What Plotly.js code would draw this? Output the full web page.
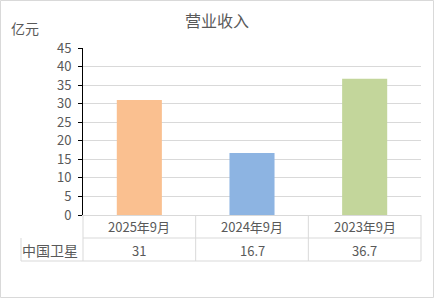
<!DOCTYPE html>
<html>
<head>
<meta charset="utf-8">
<script src="https://cdn.plot.ly/plotly-3.0.1.min.js"></script>
<style>
html,body{margin:0;padding:0;background:#fff;}
#chart{width:434px;height:298px;}
</style>
</head>
<body>
<div id="chart"></div>
<script>
const categories = ["2025年9月", "2024年9月", "2023年9月"];
const seriesName = "中国卫星";
const values = [31, 16.7, 36.7];
const valueLabels = ["31", "16.7", "36.7"];
const barColors = ["#FAC090", "#8DB4E2", "#C3D69B"];
const chartTitle = "营业收入";
const unitLabel = "亿元";

const W = 434, H = 298;
const mL = 83, mR = 13, mT = 48, mB = 83;
const pw = W - mL - mR, ph = H - mT - mB;
const px = p => (p - mL) / pw;         // pixel x -> paper
const py = p => (H - mB - p) / ph;     // pixel y -> paper

const font = "'Noto Sans CJK SC', 'Microsoft YaHei', sans-serif";
const txt = "#595959";
const grid = "#D9D9D9";

const shapes = [];
const line = (xref, x0, x1, yref, y0, y1, color) => shapes.push({
  type: 'line', xref, yref, x0, x1, y0, y1, layer: 'above',
  line: {color: color || grid, width: 1}
});
// outer chart border
shapes.push({type:'rect', xref:'paper', yref:'paper', x0:px(0.5), x1:px(W-0.5), y0:py(0.5), y1:py(H-0.5), line:{color:grid,width:1}, layer:'below'});
// table horizontal lines
line('paper', 0, 1, 'paper', py(238), py(238));
line('paper', px(21), 1, 'paper', py(261), py(261));
// table vertical lines
line('paper', 0, 0, 'paper', 0, py(261));
line('paper', 1, 1, 'paper', 0, py(261));
line('paper', px(21), px(21), 'paper', py(238), py(261));
for (let i = 0; i < categories.length - 1; i++) {
  shapes.push({type:'line', xref:'x', yref:'paper', x0:i+0.5, x1:i+0.5, y0:0, y1:py(261), layer:'above', line:{color:grid,width:1}});
}

const annotations = [];
categories.forEach((c, i) => {
  annotations.push({x: c, xref: 'x', y: py(226.5), yref: 'paper', text: c, showarrow: false,
    font: {family: font, size: 13, color: txt}, xanchor: 'center', yanchor: 'middle'});
  annotations.push({x: c, xref: 'x', y: py(250), yref: 'paper', text: valueLabels[i], showarrow: false,
    font: {family: font, size: 13, color: txt}, xanchor: 'center', yanchor: 'middle'});
});
annotations.push({x: px(50), xref: 'paper', y: py(250), yref: 'paper', text: seriesName, showarrow: false,
  font: {family: font, size: 14, color: txt}, xanchor: 'center', yanchor: 'middle'});
annotations.push({x: px(25), xref: 'paper', y: py(28), yref: 'paper', text: unitLabel, showarrow: false,
  font: {family: font, size: 14, color: txt}, xanchor: 'center', yanchor: 'middle'});

const data = [{
  type: 'bar', x: categories, y: values, name: seriesName,
  marker: {color: barColors, line: {width: 0}},
  hoverinfo: 'x+y'
}];

const layout = {
  width: W, height: H,
  margin: {l: mL, r: mR, t: mT, b: mB, pad: 0},
  paper_bgcolor: '#fff', plot_bgcolor: '#fff',
  showlegend: false,
  bargap: 0.6,
  title: {text: chartTitle, x: 0.5, xref: 'container', xanchor: 'center', y: 1 - 21/H, yref: 'container', yanchor: 'middle',
    font: {family: font, size: 16, color: txt}},
  xaxis: {type: 'category', showticklabels: false, ticks: '', showgrid: false, zeroline: false,
    showline: true, linecolor: grid, linewidth: 1, fixedrange: true},
  yaxis: {range: [0, 45], dtick: 5, tick0: 0, showgrid: true, gridcolor: grid, gridwidth: 1,
    zeroline: false, showline: true, linecolor: '#000', linewidth: 1,
    ticks: 'outside', ticklen: 4, tickcolor: '#000', tickwidth: 1, ticklabelstandoff: 4,
    tickfont: {family: font, size: 13, color: txt}, fixedrange: true},
  shapes, annotations
};

Plotly.newPlot('chart', data, layout, {displayModeBar: false, staticPlot: true});
</script>
</body>
</html>
